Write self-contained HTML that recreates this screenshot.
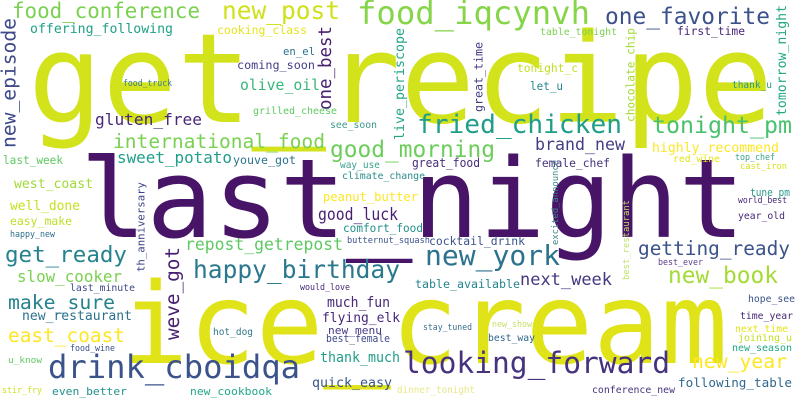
<!DOCTYPE html>
<html><head><meta charset="utf-8"><style>
html,body{margin:0;padding:0;background:#fff;}
svg{display:block;}
text{font-family:"DejaVu Sans Mono","Liberation Mono",monospace;}
</style></head><body>
<svg id="cloud" width="800" height="400" viewBox="0 0 800 400" xmlns="http://www.w3.org/2000/svg">
<rect width="800" height="400" fill="#fff"/>
</svg>
<script>
// word, x, baseline (or bottom y for vertical), length, font size, color, vertical
const words = [
["get_recipe",28,122,745,124,"#d2e21b",0],
["last_night",80,237,665,110,"#481467",0],
["ice_cream",121,363,607,112,"#dfe318",0],
["food_conference",12,18,188,21,"#7ad151",0],
["new_post",222,19,118,24.5,"#d0e11c",0],
["food_iqcynvh",357,24,233,32,"#86d549",0],
["one_favorite",605,24,165,23,"#3b528b",0],
["offering_following",30,33,143,13.3,"#1fa187",0],
["cooking_class",217,34,90,11.5,"#e5e419",0],
["new_episode",20,148,130,19.6,"#3e4989",1],
["one_best",335,110,84,17.5,"#481f70",1],
["en_el",283,55,32,10.6,"#2c728e",0],
["coming_soon",237,69,78,11.8,"#433e85",0],
["olive_oil",240,90,80,14.8,"#35b779",0],
["live_periscope",407,140,112,13.3,"#21a585",1],
["food_truck",123,86,49,8.5,"#3b7c8c",0],
["grilled_cheese",253,114,84,10,"#5ec962",0],
["gluten_free",95,125,107,16.2,"#482878",0],
["see_soon",330,128,47,9.8,"#3d9a8b",0],
["international_food",113,148,212,19.6,"#7ad151",0],
["good_morning",330,157,165,23,"#6ccd5a",0],
["sweet_potato",117,163,115,16,"#1f9e89",0],
["youve_got",233,164,63,11.6,"#2c728e",0],
["last_week",3,164,60,11.1,"#5ec962",0],
["way_use",340,168,40,9.5,"#3aa38c",0],
["climate_change",342,179,83,9.8,"#2a8d8c",0],
["west_coast",14,188,79,13.2,"#a0da39",0],
["peanut_butter",323,201,95,12,"#fde725",0],
["th_anniversary",147,272,90,10.7,"#414487",1],
["tonight_pm",652,133,140,23,"#4ac16d",0],
["fried_chicken",417,133,205,26,"#1f9e89",0],
["tomorrow_night",789,116,111,13.2,"#22a884",1],
["first_time",677,35,68,11.4,"#482677",0],
["table_tonight",540,35,77,10,"#7ad151",0],
["chocolate_chip",637,122,94,11.2,"#a5db36",1],
["tonight_c",517,72,61,11.5,"#c2df23",0],
["great_time",485,112,70,11.6,"#443a83",1],
["let_u",530,90,33,11.5,"#24878e",0],
["thank_u",732,88,40,9.5,"#2a9a8a",0],
["brand_new",535,150,90,16.6,"#433e85",0],
["highly_recommend",652,152,127,13.2,"#fde725",0],
["great_food",412,167,68,12,"#472d7b",0],
["female_chef",535,167,75,11.4,"#46337e",0],
["red_wine",673,162,47,9.4,"#e2e418",0],
["top_chef",735,160,40,9,"#3aa38c",0],
["cast_iron",740,169,47,9,"#d8e219",0],
["tune_pm",750,196,40,10.5,"#2a9a8a",0],
["world_best",738,203,49,8.5,"#482878",0],
["year_old",738,219,47,9.5,"#482878",0],
["best_ever",658,265,45,8.6,"#5c3c8b",0],
["best_restaurant",631,280,80,8.9,"#c2df6a",1],
["excited_announce",560,245,85,8.8,"#40858e",1],
["cocktail_drink",429,245,96,11.4,"#3b528b",0],
["new_york",425,265,135,28,"#2c728e",0],
["getting_ready",638,255,152,19.5,"#3b528b",0],
["new_book",668,283,110,23,"#a5db36",0],
["next_week",520,285,92,17,"#453781",0],
["table_available",415,288,105,11.6,"#25858e",0],
["hope_see",748,302,47,9.5,"#3b528b",0],
["time_year",740,319,53,9.6,"#482878",0],
["new_show",492,327,40,8.5,"#c8e06a",0],
["stay_tuned",423,330,49,9,"#3b6f8e",0],
["next_time",735,332,53,9.6,"#e5e419",0],
["best_way",488,341,47,9.6,"#31688e",0],
["joining_u",738,341,54,9.6,"#c2df23",0],
["new_season",732,351,60,9.6,"#22a884",0],
["looking_forward",403,373,267,29.7,"#46327e",0],
["new_year",692,368,95,19.7,"#fde725",0],
["following_table",678,387,114,12.6,"#31688e",0],
["conference_new",592,393,83,9.8,"#46337e",0],
["dinner_tonight",397,393,78,9.8,"#e8e88a",0],
["well_done",10,210,70,13,"#c8e020",0],
["easy_make",10,225,62,11.5,"#bddf26",0],
["happy_new",10,237,45,8.5,"#2e6f8e",0],
["get_ready",5,262,122,22.6,"#25838e",0],
["good_luck",318,220,80,16.6,"#481f70",0],
["comfort_food",343,232,80,11.6,"#21918c",0],
["butternut_squash",347,243,83,9,"#3b528b",0],
["repost_getrepost",185,250,158,16.5,"#5ec962",0],
["weve_got",183,340,93,19.3,"#481f70",1],
["happy_birthday",193,278,207,24.6,"#2a788e",0],
["slow_cooker",17,282,105,16,"#7ad151",0],
["last_minute",70,291,65,10,"#3e4a89",0],
["would_love",300,290,50,8.8,"#482878",0],
["make_sure",8,309,107,19.8,"#26828e",0],
["much_fun",327,307,63,14,"#482878",0],
["flying_elk",322,322,78,13.5,"#482878",0],
["new_restaurant",22,320,110,13.2,"#2c728e",0],
["new_menu",328,334,54,11,"#443a83",0],
["hot_dog",213,335,40,10,"#31788e",0],
["east_coast",8,342,117,19.6,"#fde725",0],
["best_female",326,342,64,10.5,"#3e4989",0],
["food_wine",70,351,45,9,"#3b528b",0],
["thank_much",320,362,80,14,"#1f9e89",0],
["u_know",8,363,34,9,"#5ec962",0],
["drink_cboidqa",48,378,252,32,"#3b528b",0],
["quick_easy",312,387,80,13,"#39568c",0],
["stir_fry",2,393,40,9,"#d0e11c",0],
["even_better",52,395,75,11,"#21918c",0],
["new_cookbook",190,395,82,11,"#22a884",0]
];
const svg = document.getElementById('cloud');
const NS = 'http://www.w3.org/2000/svg';
words.forEach(function(w){
  const t = document.createElementNS(NS,'text');
  
  
  t.textContent = w[0];
  t.setAttribute('font-size', w[4]);
  t.setAttribute('fill', w[5]);
  t.setAttribute('textLength', w[3]);
  t.setAttribute('lengthAdjust', 'spacingAndGlyphs');
  if (w[6]) {
    const bx = w[1] - 0.22 * w[4];
    t.setAttribute('transform', 'translate(' + bx + ',' + w[2] + ') rotate(-90)');
    t.setAttribute('x', 0);
    t.setAttribute('y', 0);
  } else {
    t.setAttribute('x', w[1]);
    t.setAttribute('y', w[2]);
  }
  svg.appendChild(t);
});
</script>
</body></html>
